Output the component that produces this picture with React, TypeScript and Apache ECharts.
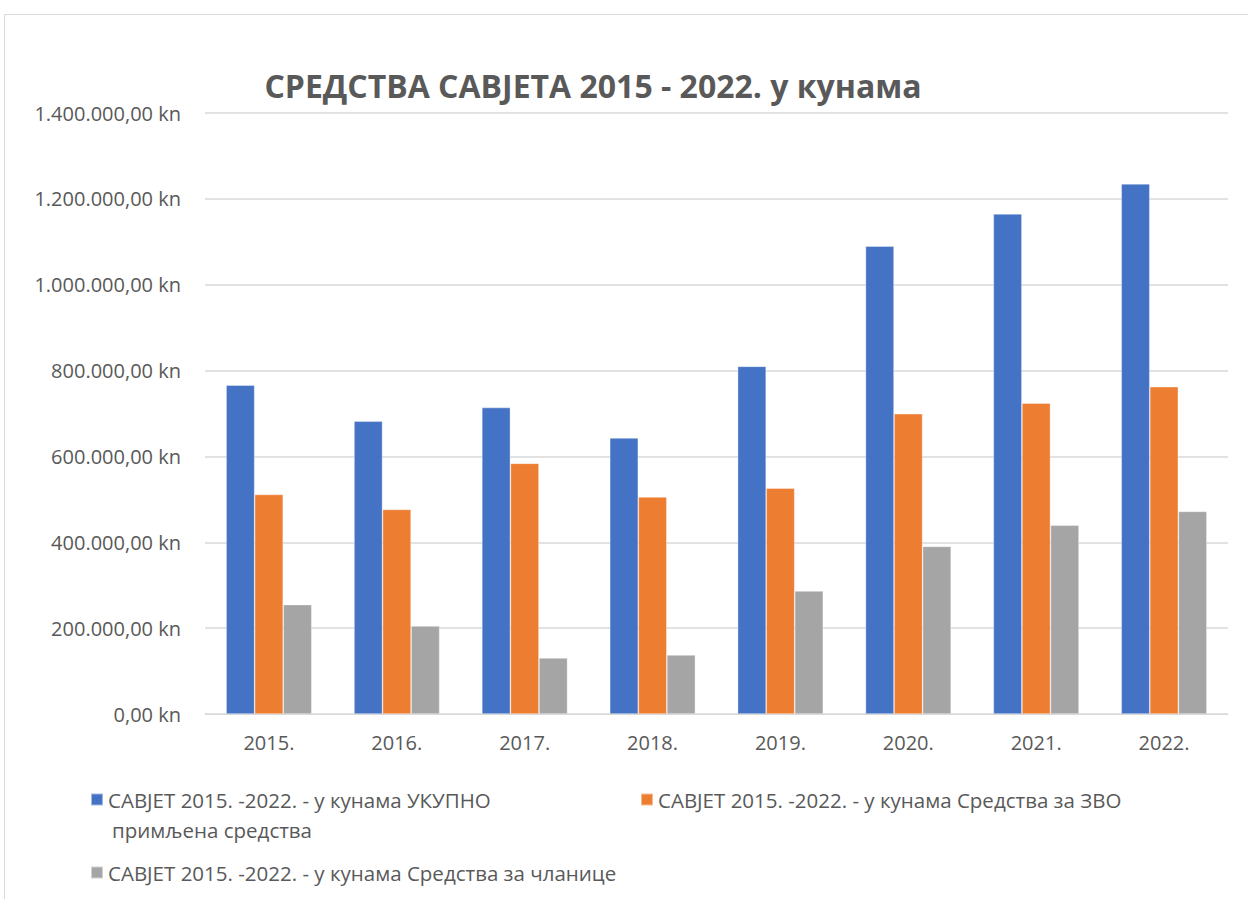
import React, { useEffect, useRef } from "react";
import * as echarts from "echarts";

const categories = ["2015.", "2016.", "2017.", "2018.", "2019.", "2020.", "2021.", "2022."];
const totalValues = [766000, 682000, 714000, 643000, 810000, 1090000, 1165000, 1235000];
const zvoValues = [511500, 476500, 584000, 505500, 526000, 699500, 724000, 762500];
const memberValues = [255000, 205000, 130500, 137500, 286500, 390500, 440000, 472000];

const seriesNames = [
  "САВЈЕТ 2015. -2022. - у кунама УКУПНО примљена средства",
  "САВЈЕТ 2015. -2022. - у кунама Средства за ЗВО",
  "САВЈЕТ 2015. -2022. - у кунама Средства за чланице",
];
const colors = ["#4472C4", "#ED7D31", "#A5A5A5"];
const titleText = "СРЕДСТВА САВЈЕТА 2015 - 2022. у кунама";

const FONT = "'Open Sans', 'Noto Sans', sans-serif";
const TXT = "#595959";

function fmt(v: number): string {
  const s = Math.round(v).toString().replace(/\B(?=(\d{3})+(?!\d))/g, ".");
  return s + ",00 kn";
}

export default function App() {
  const ref = useRef<HTMLDivElement>(null);
  useEffect(() => {
    if (!ref.current) return;
    const chart = echarts.init(ref.current, null, { renderer: "svg" });
    const legendBase = {
      orient: "horizontal" as const,
      padding: 0,
      itemWidth: 12,
      itemHeight: 12,
      itemGap: 0,
      icon: "rect",
      textStyle: { color: TXT, fontSize: 20.5, fontFamily: FONT },
      selectedMode: false,
    };
    const splitIdx = seriesNames[0].indexOf("УКУПНО") + "УКУПНО".length;
    chart.setOption({
      animation: false,
      backgroundColor: "#ffffff",
      title: {
        text: titleText,
        left: 588,
        top: 64,
        textAlign: "center",
        textStyle: { color: TXT, fontSize: 32, fontWeight: "bold", fontFamily: FONT },
      },
      grid: { left: 205, right: 20, top: 113, bottom: 185, containLabel: false },
      xAxis: {
        type: "category",
        data: categories,
        axisLine: { lineStyle: { color: "#D9D9D9", width: 1 } },
        axisTick: { show: false },
        axisLabel: { color: TXT, fontSize: 20, fontFamily: FONT, margin: 18 },
      },
      yAxis: {
        type: "value",
        min: 0,
        max: 1400000,
        interval: 200000,
        axisLine: { show: false },
        axisTick: { show: false },
        splitLine: { lineStyle: { color: "#D9D9D9", width: 1.5 } },
        axisLabel: { color: TXT, fontSize: 20, fontFamily: FONT, margin: 24, formatter: fmt },
      },
      legend: [
        {
          ...legendBase,
          left: 90,
          top: 789,
          data: [seriesNames[0]],
          formatter: (n: string) => n.slice(0, splitIdx),
        },
        { ...legendBase, left: 640, top: 789, data: [seriesNames[1]] },
        { ...legendBase, left: 90, top: 862, data: [seriesNames[2]] },
      ],
      graphic: [
        {
          type: "rect",
          shape: { x: 4.5, y: 14.5, width: 1260, height: 900 },
          style: { fill: "none", stroke: "#D9D9D9", lineWidth: 1 },
          silent: true,
        },
        {
          type: "text",
          left: 112,
          top: 819,
          style: {
            text: seriesNames[0].slice(splitIdx + 1),
            fill: TXT,
            fontSize: 20.5,
            fontFamily: FONT,
          },
          silent: true,
        },
      ],
      series: [
        { name: seriesNames[0], data: totalValues },
        { name: seriesNames[1], data: zvoValues },
        { name: seriesNames[2], data: memberValues },
      ].map((s, i) => ({
        ...s,
        type: "bar",
        barGap: "0%",
        barCategoryGap: "33%",
        itemStyle: { color: colors[i], borderColor: "rgba(255,255,255,0.5)", borderWidth: 0.7 },
      })),
    });
    return () => chart.dispose();
  }, []);
  return (
    <div
      ref={ref}
      style={{ position: "absolute", left: 0, top: 0, width: 1248, height: 899 }}
    />
  );
}
